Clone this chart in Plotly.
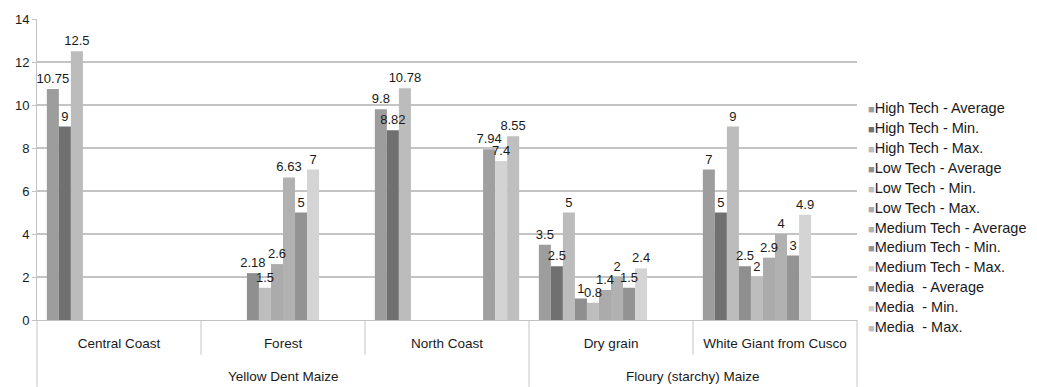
import plotly.graph_objects as go

# Sub-categories (first axis level) and their parent groups (second level)
categories = ["Central Coast", "Forest", "North Coast", "Dry grain", "White Giant from Cusco"]
groups = ["Yellow Dent Maize", "Yellow Dent Maize", "Yellow Dent Maize",
          "Floury (starchy) Maize", "Floury (starchy) Maize"]

# Yield values per series (None = no value for that category)
high_avg = [10.75, None, 9.8, 3.5, 7]
high_min = [9, None, 8.82, 2.5, 5]
high_max = [12.5, None, 10.78, 5, 9]
low_avg = [None, 2.18, None, 1, 2.5]
low_min = [None, 1.5, None, 0.8, 2]
low_max = [None, 2.6, None, 1.4, 2.9]
med_avg = [None, 6.63, None, 2, 4]
med_min = [None, 5, None, 1.5, 3]
med_max = [None, 7, None, 2.4, 4.9]
media_avg = [None, None, 7.94, None, None]
media_min = [None, None, 7.4, None, None]
media_max = [None, None, 8.55, None, None]

series_names = [
    "High Tech - Average", "High Tech - Min.", "High Tech - Max.",
    "Low Tech - Average", "Low Tech - Min.", "Low Tech - Max.",
    "Medium Tech - Average", "Medium Tech - Min.", "Medium Tech - Max.",
    "Media  - Average", "Media  - Min.", "Media  - Max.",
]
series_values = [high_avg, high_min, high_max, low_avg, low_min, low_max,
                 med_avg, med_min, med_max, media_avg, media_min, media_max]
series_colors = ["#9d9d9d", "#707070", "#bcbcbc", "#8f8f8f", "#bdbdbd", "#ababab",
                 "#b1b1b1", "#939393", "#d4d4d4", "#a0a0a0", "#d3d3d3", "#bfbfbf"]

FONT = "Liberation Sans, Arial, Helvetica, sans-serif"
GRID = "#c4c4c4"
TEXT = "#1a1a1a"

fig = go.Figure()
# Filled bars
for i, (name, vals, col) in enumerate(zip(series_names, series_values, series_colors)):
    fig.add_trace(go.Bar(
        x=categories, y=vals, name=name, marker_color=col, marker_line_width=0,
        offsetgroup=str(i), showlegend=False,
    ))
# Value labels, added after all bars so they sit above neighbouring bars
for i, (name, vals) in enumerate(zip(series_names, series_values)):
    fig.add_trace(go.Bar(
        x=categories, y=vals, name=name, marker_color="rgba(0,0,0,0)",
        marker_line_width=0, offsetgroup=str(i), showlegend=False, hoverinfo="skip",
        text=[None if v is None else f"{v:g}" for v in vals],
        textposition="outside", cliponaxis=False, constraintext="none",
        textangle=0, textfont=dict(size=13, color=TEXT, family=FONT),
    ))

n = len(categories)
shapes = []
# Boundaries between the outer groups run to the bottom of the chart
group_edges = {0, n}
for i in range(1, n):
    if groups[i] != groups[i - 1]:
        group_edges.add(i)
for k in range(n + 1):
    shapes.append(dict(
        type="line", xref="x domain", yref="paper",
        x0=k / n, x1=k / n, y0=0, y1=-0.222 if k in group_edges else -0.115,
        line=dict(color=GRID, width=1),
    ))

# Outer group labels centred beneath their sub-categories
annotations = []
seen = []
for g in groups:
    if g not in seen:
        seen.append(g)
for g in seen:
    idx = [i for i, gg in enumerate(groups) if gg == g]
    annotations.append(dict(
        x=(idx[0] + idx[-1]) / 2, xref="x", y=-0.188, yref="paper",
        text=g, showarrow=False, yanchor="middle",
        font=dict(size=13.5, color=TEXT, family=FONT),
    ))

# Legend: a small coloured square followed by the series name, one per row
legend_top = 0.703
legend_step = 0.066
for i, (name, col) in enumerate(zip(series_names, series_colors)):
    annotations.append(dict(
        x=1.011, xref="paper", y=legend_top - i * legend_step, yref="paper",
        xanchor="left", yanchor="middle", showarrow=False,
        text=(f'<span style="color:{col};font-size:11px">■</span>'
              f'{name.replace("  ", "&nbsp; ")}'),
        font=dict(size=14.5, color=TEXT, family=FONT),
    ))

fig.update_layout(
    width=1037, height=387,
    margin=dict(l=37, r=180, t=17, b=67),
    paper_bgcolor="white", plot_bgcolor="white",
    barmode="group", bargap=0.12, bargroupgap=0,
    font=dict(family=FONT, size=13, color=TEXT),
    shapes=shapes, annotations=annotations, showlegend=False,
    xaxis=dict(
        type="category", showgrid=False, showline=True, linecolor=GRID, linewidth=1,
        ticks="", ticklabelstandoff=11, tickfont=dict(size=13.5, family=FONT),
    ),
    yaxis=dict(
        range=[0, 14], dtick=2, showgrid=True, gridcolor=GRID, gridwidth=1.5,
        showline=True, linecolor=GRID, linewidth=1, ticks="outside", ticklen=4,
        tickcolor=GRID, zeroline=False, tickfont=dict(size=13, family=FONT),
    ),
)

fig.write_html("out.html")
